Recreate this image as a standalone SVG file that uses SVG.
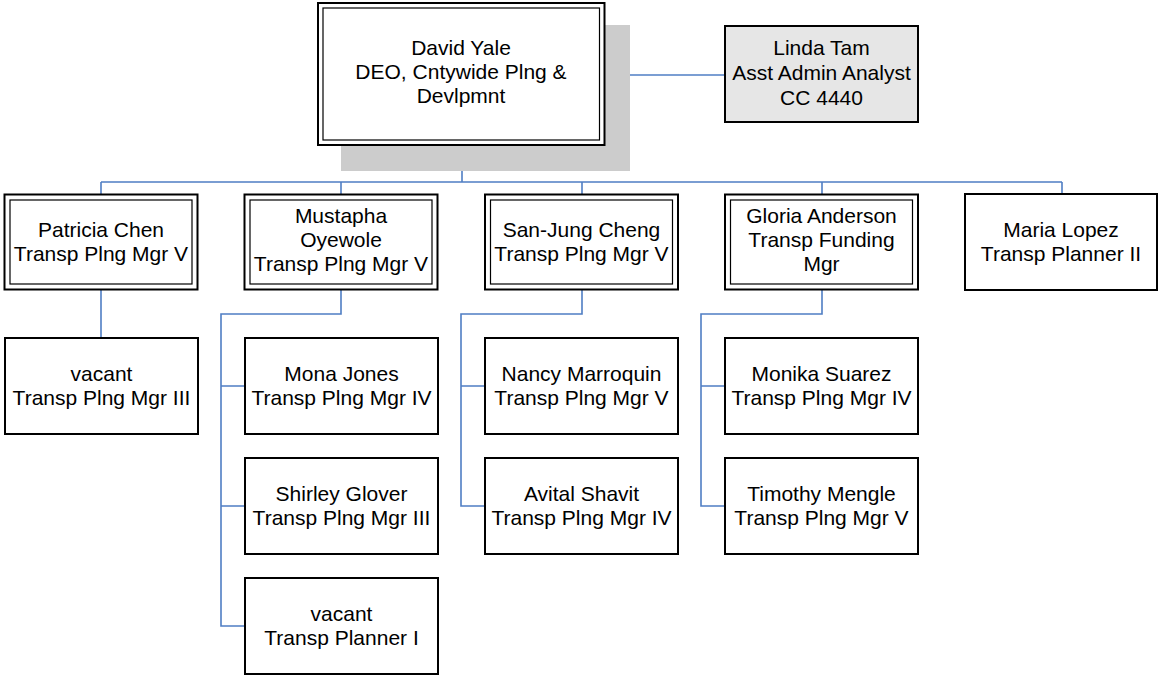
<svg xmlns="http://www.w3.org/2000/svg" width="1158" height="677" viewBox="0 0 1158 677">
<style>
  text { font-family: "Liberation Sans", Arial, sans-serif; font-size: 21px; fill: #000; text-anchor: middle; }
  .outer { fill: #fff; stroke: #000; stroke-width: 2; }
  .inner { fill: none; stroke: #000; stroke-width: 1.2; }
  .box { fill: #fff; stroke: #000; stroke-width: 2; }
  .grey { fill: #e6e6e6; stroke: #000; stroke-width: 2; }
  .shadow { fill: #cccccc; stroke: none; }
  .conn { fill: none; stroke: #4f7ec4; stroke-width: 1.6; }
</style>
<rect width="1158" height="677" fill="#fff"/>

<g id="connectors">
  <path class="conn" d="M462,145 V182 M101,182 H1062 M101,182 V194 M341,182 V194 M582,182 V194 M822,182 V194 M1062,182 V194"/>
  <path class="conn" d="M604.5,75 H725"/>
  <path class="conn" d="M101,290 V338"/>
  <path class="conn" d="M341,290 V314 H221 V626 H245 M221,386 H245 M221,506 H245"/>
  <path class="conn" d="M582,290 V314 H461 V506 H485 M461,386 H485"/>
  <path class="conn" d="M822,290 V314 H701 V506 H725 M701,386 H725"/>
</g>

<g id="david-yale">
  <rect class="shadow" x="341" y="25" width="289" height="146"/>
  <rect class="outer" x="318" y="3" width="286.5" height="142"/>
  <rect class="inner" x="323" y="8" width="276.5" height="132"/>
  <text x="461" y="55">David Yale</text>
  <text x="461" y="79">DEO, Cntywide Plng &amp;</text>
  <text x="461" y="103">Devlpmnt</text>
</g>

<g id="linda-tam">
  <rect class="grey" x="725" y="26" width="193" height="96"/>
  <text x="821.5" y="54.5">Linda Tam</text>
  <text x="821.5" y="80">Asst Admin Analyst</text>
  <text x="821.5" y="105">CC 4440</text>
</g>

<g id="patricia-chen">
  <rect class="outer" x="4.5" y="194.5" width="193" height="95"/>
  <rect class="inner" x="10" y="200" width="182" height="84"/>
  <text x="101" y="237">Patricia Chen</text>
  <text x="101" y="261">Transp Plng Mgr V</text>
</g>

<g id="mustapha-oyewole">
  <rect class="outer" x="244.5" y="194.5" width="193" height="95"/>
  <rect class="inner" x="250" y="200" width="182" height="84"/>
  <text x="341" y="223">Mustapha</text>
  <text x="341" y="247">Oyewole</text>
  <text x="341" y="271">Transp Plng Mgr V</text>
</g>

<g id="san-jung-cheng">
  <rect class="outer" x="485" y="194.5" width="193" height="95"/>
  <rect class="inner" x="490.5" y="200" width="182" height="84"/>
  <text x="581.5" y="237">San-Jung Cheng</text>
  <text x="581.5" y="261">Transp Plng Mgr V</text>
</g>

<g id="gloria-anderson">
  <rect class="outer" x="725" y="194.5" width="193" height="95"/>
  <rect class="inner" x="730.5" y="200" width="182" height="84"/>
  <text x="821.5" y="223">Gloria Anderson</text>
  <text x="821.5" y="247">Transp Funding</text>
  <text x="821.5" y="271">Mgr</text>
</g>

<g id="maria-lopez">
  <rect class="box" x="965" y="194" width="192" height="96"/>
  <text x="1061" y="237">Maria Lopez</text>
  <text x="1061" y="261">Transp Planner II</text>
</g>

<g id="vacant-mgr-iii">
  <rect class="box" x="5" y="338" width="193" height="96"/>
  <text x="101.5" y="381">vacant</text>
  <text x="101.5" y="405">Transp Plng Mgr III</text>
</g>

<g id="mona-jones">
  <rect class="box" x="245" y="338" width="193" height="96"/>
  <text x="341.5" y="381">Mona Jones</text>
  <text x="341.5" y="405">Transp Plng Mgr IV</text>
</g>

<g id="shirley-glover">
  <rect class="box" x="245" y="458" width="193" height="96"/>
  <text x="341.5" y="501">Shirley Glover</text>
  <text x="341.5" y="525">Transp Plng Mgr III</text>
</g>

<g id="vacant-planner-i">
  <rect class="box" x="245" y="578" width="193" height="96"/>
  <text x="341.5" y="621">vacant</text>
  <text x="341.5" y="645">Transp Planner I</text>
</g>

<g id="nancy-marroquin">
  <rect class="box" x="485" y="338" width="193" height="96"/>
  <text x="581.5" y="381">Nancy Marroquin</text>
  <text x="581.5" y="405">Transp Plng Mgr V</text>
</g>

<g id="avital-shavit">
  <rect class="box" x="485" y="458" width="193" height="96"/>
  <text x="581.5" y="501">Avital Shavit</text>
  <text x="581.5" y="525">Transp Plng Mgr IV</text>
</g>

<g id="monika-suarez">
  <rect class="box" x="725" y="338" width="193" height="96"/>
  <text x="821.5" y="381">Monika Suarez</text>
  <text x="821.5" y="405">Transp Plng Mgr IV</text>
</g>

<g id="timothy-mengle">
  <rect class="box" x="725" y="458" width="193" height="96"/>
  <text x="821.5" y="501">Timothy Mengle</text>
  <text x="821.5" y="525">Transp Plng Mgr V</text>
</g>
</svg>
